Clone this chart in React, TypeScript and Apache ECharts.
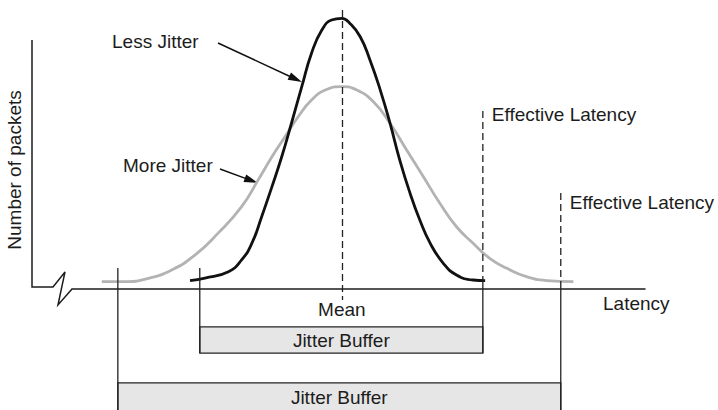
import React, { useEffect, useRef } from "react";
import * as echarts from "echarts";

// Latency axis runs 0..100, packet-count axis 0..100 (negative values hold the buffer bars)
const lessJitterX = [20.6, 23.2, 27.3, 29.6, 31.4, 33.1, 34.9, 36.6, 38.3, 40.1, 41.8, 43.6, 45.3, 47.1, 48.5, 50.3, 52.0, 53.8, 55.5, 57.2, 59.0, 60.7, 62.5, 64.8, 67.1, 70.0, 72.1];
const lessJitterY = [3.0, 3.9, 6.2, 10.4, 16.4, 25.9, 36.7, 47.4, 59.4, 72.5, 84.5, 92.8, 96.4, 97.0, 95.2, 90.4, 82.1, 71.3, 59.4, 46.2, 34.3, 24.7, 16.4, 9.2, 5.0, 3.2, 3.0];
const moreJitterX = [5.2, 9.2, 13.3, 17.4, 21.5, 25.5, 29.6, 32.5, 34.9, 37.2, 39.5, 41.8, 44.2, 47.1, 49.7, 52.6, 55.5, 58.4, 61.3, 64.2, 67.1, 70.0, 72.9, 75.9, 79.3, 82.8, 87.5];
const moreJitterY = [2.6, 2.6, 3.8, 6.8, 12.2, 20.0, 29.5, 39.1, 47.4, 54.6, 61.8, 67.7, 71.3, 72.5, 71.3, 67.1, 59.4, 49.8, 40.3, 30.7, 22.3, 16.4, 11.0, 7.4, 4.4, 3.0, 2.6];

const meanLatency = 47.1;
const bufferLabels = ["Jitter Buffer", "Jitter Buffer"];
const bufferStart = [22.3, 8.0];
const bufferEnd = [71.7, 85.3];
const effectiveLatencyTop = [63.8, 34.4];
const effectiveLabel = "Effective Latency";

const FONT = '"Liberation Sans", Arial, sans-serif';
const INK = "#1c1c1c";

export default function App() {
  const ref = useRef<HTMLDivElement>(null);
  useEffect(() => {
    const chart = echarts.init(ref.current!, null, { renderer: "svg" });
    const rows = [
      { boxTop: -13.6, boxBottom: -23.0, textY: -18.4, labelShift: 4 },
      { boxTop: -33.7, boxBottom: -60, textY: -38.8, labelShift: 10 },
    ];
    const option: any = {
      animation: false,
      backgroundColor: "#fff",
      grid: { left: 72, right: 73, top: 10, bottom: 0 },
      xAxis: {
        type: "value",
        min: 0,
        max: 100,
        axisLine: { show: true, onZero: true, lineStyle: { color: INK, width: 1.5 } },
        axisTick: { show: false },
        axisLabel: { show: false },
        splitLine: { show: false },
        name: "Latency",
        nameLocation: "end",
        nameGap: -42,
        nameTextStyle: {
          color: INK,
          fontFamily: FONT,
          fontSize: 19,
          align: "left",
          verticalAlign: "top",
          padding: [5, 0, 0, 0],
        },
      },
      yAxis: {
        type: "value",
        min: -43.4,
        max: 100,
        show: false,
      },
      series: [
        {
          type: "line",
          name: "More Jitter",
          data: moreJitterX.map((x, i) => [x, moreJitterY[i]]),
          smooth: 0.5,
          symbol: "none",
          lineStyle: { color: "#b3b3b3", width: 2.8 },
          z: 2,
        },
        {
          type: "line",
          name: "Less Jitter",
          data: lessJitterX.map((x, i) => [x, lessJitterY[i]]),
          smooth: 0.5,
          symbol: "none",
          lineStyle: { color: "#111", width: 2.8 },
          z: 3,
          markLine: {
            silent: true,
            symbol: "none",
            label: { show: false },
            lineStyle: { color: "#222", width: 1.3, type: [7, 4] },
            data: [[{ coord: [meanLatency, 100] }, { coord: [meanLatency, -4] }]],
          },
        },
        {
          type: "custom",
          name: "buffers",
          encode: { x: [0, 1], y: 2 },
          data: bufferStart.map((s, i) => [s, bufferEnd[i], effectiveLatencyTop[i]]),
          z: 4,
          renderItem: (params: any, api: any) => {
            const i = params.dataIndex;
            const s = api.value(0);
            const e = api.value(1);
            const top = api.value(2);
            const row = rows[i];
            const a = api.coord([s, row.boxTop]);
            const b = api.coord([e, row.boxBottom]);
            const leftTop = api.coord([s, 7.5]);
            const tail = api.coord([e, 2.5]);
            const effTop = api.coord([e, top]);
            const txt = api.coord([(s + e) / 2, row.textY]);
            const stroke = { stroke: "#222", lineWidth: 1.3 };
            return {
              type: "group",
              children: [
                {
                  type: "rect",
                  shape: { x: a[0], y: a[1], width: b[0] - a[0], height: b[1] - a[1] },
                  style: { fill: "#e6e6e6", ...stroke },
                },
                {
                  type: "line",
                  shape: { x1: leftTop[0], y1: leftTop[1], x2: a[0], y2: b[1] },
                  style: stroke,
                },
                {
                  type: "line",
                  shape: { x1: tail[0], y1: tail[1], x2: b[0], y2: b[1] },
                  style: stroke,
                },
                {
                  type: "line",
                  shape: { x1: effTop[0], y1: effTop[1], x2: tail[0], y2: tail[1] },
                  style: { stroke: "#222", lineWidth: 1.3, lineDash: [7, 4] },
                },
                {
                  type: "text",
                  x: txt[0],
                  y: txt[1],
                  style: {
                    text: bufferLabels[i],
                    fill: INK,
                    fontFamily: FONT,
                    fontSize: 19,
                    align: "center",
                    verticalAlign: "middle",
                  },
                },
                {
                  type: "text",
                  x: effTop[0] + 9,
                  y: effTop[1] + row.labelShift,
                  style: {
                    text: effectiveLabel,
                    fill: INK,
                    fontFamily: FONT,
                    fontSize: 19,
                    align: "left",
                    verticalAlign: "middle",
                  },
                },
              ],
            };
          },
        },
      ],
    };
    chart.setOption(option);

    const origin = chart.convertToPixel({ gridIndex: 0 }, [0, 0]) as number[];
    const x0 = origin[0];
    const y0 = origin[1];
    const meanPx = chart.convertToPixel({ gridIndex: 0 }, [meanLatency, 0]) as number[];

    const textStyle = (text: string, align: string) => ({
      text,
      fill: INK,
      fontFamily: FONT,
      fontSize: 19,
      align,
      verticalAlign: "middle",
    });

    const arrow = (x1: number, y1: number, x2: number, y2: number) => {
      const dx = x2 - x1;
      const dy = y2 - y1;
      const len = Math.sqrt(dx * dx + dy * dy);
      const ux = dx / len;
      const uy = dy / len;
      const hl = 14;
      const hw = 4;
      const bx = x2 - ux * hl;
      const by = y2 - uy * hl;
      return [
        {
          type: "line",
          shape: { x1, y1, x2: bx + ux * 2, y2: by + uy * 2 },
          style: { stroke: "#111", lineWidth: 1.5 },
        },
        {
          type: "polygon",
          shape: {
            points: [
              [x2, y2],
              [bx - uy * hw, by + ux * hw],
              [bx + uy * hw, by - ux * hw],
            ],
          },
          style: { fill: "#111" },
        },
      ];
    };

    chart.setOption({
      graphic: [
        {
          type: "polyline",
          shape: {
            points: [
              [x0 - 40, y0 - 249],
              [x0 - 40, y0 - 2],
              [x0 - 19, y0 - 2],
              [x0 - 7, y0 - 17],
              [x0 - 14, y0 + 16],
              [x0, y0],
            ],
          },
          style: { stroke: INK, lineWidth: 1.5, fill: null },
        },
        {
          type: "text",
          x: 14,
          y: 170,
          rotation: Math.PI / 2,
          style: textStyle("Number of packets", "center"),
        },
        { type: "text", x: 112, y: 41, style: textStyle("Less Jitter", "left") },
        { type: "text", x: 123, y: 165, style: textStyle("More Jitter", "left") },
        { type: "text", x: meanPx[0], y: 309, style: textStyle("Mean", "center") },
        ...arrow(218, 43, 302, 82),
        ...arrow(220, 169, 258, 183),
      ],
    });

    return () => chart.dispose();
  }, []);
  return (
    <div
      ref={ref}
      style={{ position: "fixed", left: 0, top: 0, width: 718, height: 410, background: "#fff" }}
    />
  );
}
